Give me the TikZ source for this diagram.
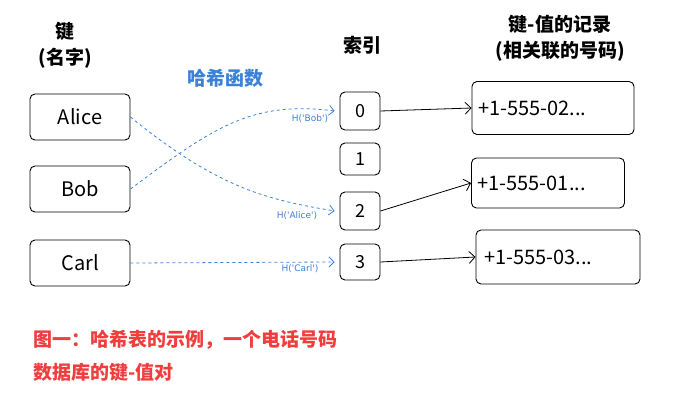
\documentclass[tikz,border=0pt]{standalone}
\usepackage{fontspec}
\setmainfont{Noto Sans CJK SC}
\newfontfamily\lat{DejaVu Sans}
\usetikzlibrary{arrows.meta}
\definecolor{hblue}{HTML}{3B82D6}
\definecolor{cred}{HTML}{F03E3E}
\begin{document}
\begin{tikzpicture}[x=1pt,y=-1pt,
  box/.style={draw,rounded corners=5pt,line width=0.9pt,inner sep=0pt},
  hash/.style={hblue,dashed,line width=0.8pt,-{Straight Barb[length=5pt]}},
  harr/.style={line width=0.8pt,-{Straight Barb[length=6pt]}},
  hl/.style={hblue,font=\lat\fontsize{9}{10}\selectfont},
  bt/.style={font=\fontsize{20}{22}\selectfont},
  ttl/.style={font=\fontsize{19}{26}\selectfont\bfseries,align=center}]
\useasboundingbox (0,0) rectangle (690,414);
\node[ttl] (t1) at (65,45) {键\\(名字)};
\node[ttl] (t2) at (362,45) {索引};
\node[ttl] (t3) at (560,38) {键-值的记录\\(相关联的号码)};
\node[ttl,hblue] (t4) at (225,78) {哈希函数};
\node[box,minimum width=100pt,minimum height=46pt,bt] (a) at (80,117) {Alice};
\node[box,minimum width=100pt,minimum height=46pt,bt] (b) at (80,189) {Bob};
\node[box,minimum width=100pt,minimum height=46pt,bt] (c) at (80,263) {Carl};
\node[box,minimum width=40pt,minimum height=38pt,font=\fontsize{18}{20}\selectfont] (i0) at (360,111) {0};
\node[box,minimum width=40pt,minimum height=32pt,font=\fontsize{18}{20}\selectfont] (i1) at (360,159) {1};
\node[box,minimum width=40pt,minimum height=38pt,font=\fontsize{18}{20}\selectfont] (i2) at (360,211) {2};
\node[box,minimum width=40pt,minimum height=36pt,font=\fontsize{18}{20}\selectfont] (i3) at (360,262) {3};
\node[box,minimum width=162pt,minimum height=53pt,bt,text width=150pt,align=left] (r1) at (553,108) {+1-555-02...};
\node[box,minimum width=153pt,minimum height=50pt,bt,text width=141pt,align=left] (r2) at (548,183) {+1-555-01...};
\node[box,minimum width=164pt,minimum height=54pt,bt,text width=148pt,align=left] (r3) at (558,257) {+1-555-03...};
\draw[hash] (a.east) .. controls (220,190) and (270,200) .. ([xshift=-5pt]i2.west);
\draw[hash] (b.east) .. controls (210,130) and (250,100) .. ([xshift=-5pt]i0.west);
\draw[hash] (c.east) -- ([xshift=-5pt]i3.west);
\node[hl] (l1) at (310,119) {H('Bob')};
\node[hl] (l2) at (297,216) {H('Alice')};
\node[hl] (l3) at (300,269) {H('Carl')};
\draw[harr] (i0.east) -- (r1.west);
\draw[harr] (i2.east) -- (r2.west);
\draw[harr] (i3.east) -- (r3.west);
\node[cred,anchor=west,align=left,font=\fontsize{19}{33}\selectfont\bfseries] (cap) at (30,356) {图一：哈希表的示例，一个电话号码\\数据库的键-值对};
\end{tikzpicture}
\end{document}
